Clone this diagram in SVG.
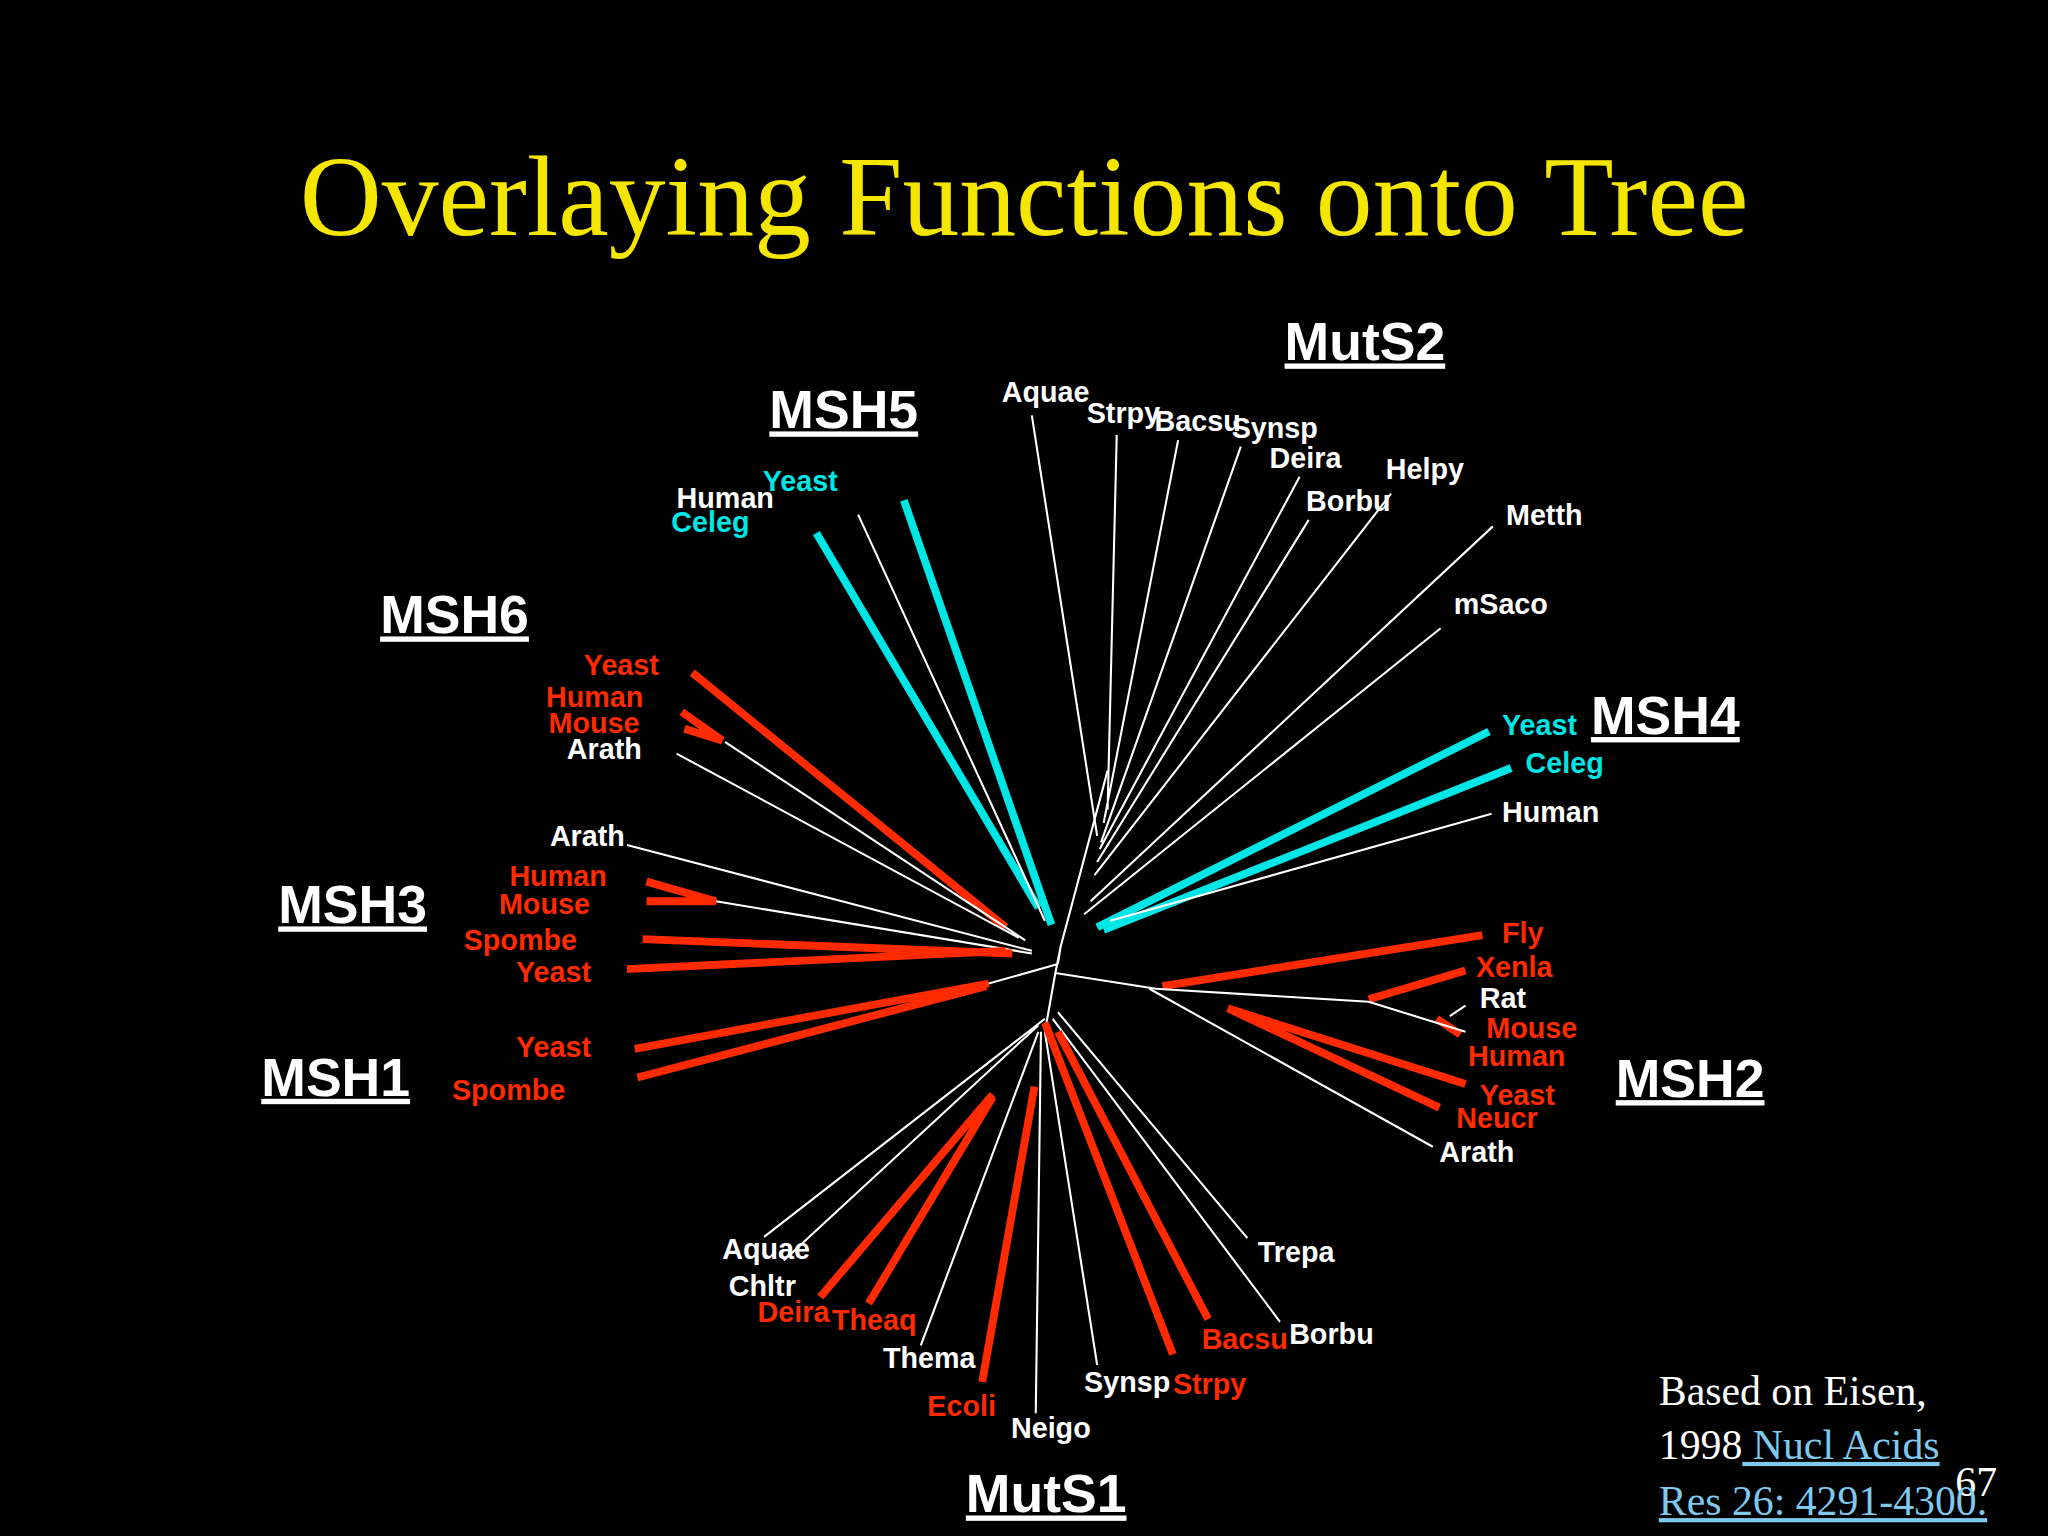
<svg xmlns="http://www.w3.org/2000/svg" width="2048" height="1536" viewBox="0 0 2048 1536">
<style>
.w{stroke:#fff;stroke-width:1.6;fill:none}
.r{stroke:#ff2a00;stroke-width:6;fill:none}
.c{stroke:#00e5e5;stroke-width:6;fill:none}
text{font-family:"Liberation Sans",Arial,sans-serif;font-weight:bold}
.lw{fill:#fff;font-size:22px}
.lr{fill:#ff2a00;font-size:22px}
.lc{fill:#00e5e5;font-size:22px}
.h{fill:#fff;font-size:41px;text-decoration:underline}
.s{font-family:"Liberation Serif","Times New Roman",serif;font-weight:normal;font-size:32px}
</style>
<rect width="2048" height="1536" fill="#000"/>
<g transform="scale(1.30612)">
<text x="784" y="180" text-anchor="middle" style="font-family:'Liberation Serif','Times New Roman',serif;font-weight:normal;font-size:87px;fill:#f5e600">Overlaying Functions onto Tree</text>
<g id="connectors">
<path class="w" d="M848,590L812,725L808,745L800,790M808,745L885,757M812,725L810,738"/>
<path class="w" d="M790,318L840,640M855,333L848,620M902,337L845,630M950,342L843,645M995,365L842,650M1002,398L840,660M1065,378L838,670M1143,403L835,690M1103,481L830,700"/>
<path class="c" d="M625,408L795,695M692,383L805,708"/>
<path class="w" d="M657,394L800,705"/>
<path class="c" d="M1140,560L840,710M1157,588L845,712"/>
<path class="w" d="M1142,623L850,705"/>
<path class="r" d="M530,515L770,710M522,545L553,567L524,558"/>
<path class="w" d="M518,577L780,718M555,568L785,720"/>
<path class="w" d="M480,647L790,728M548,690L790,730"/>
<path class="r" d="M495,675L548,690L495,690M492,719L775,730M480,742L770,728"/>
<path class="r" d="M486,803L757,753M488,825L755,755"/>
<path class="w" d="M757,753L810,738"/>
<path class="r" d="M890,755L1135,716M1048,765L1122,743M1100,780L1118,792M940,772L1122,830M940,772L1102,848"/>
<path class="w" d="M885,757L1048,767L1122,790M1110,778L1122,770M880,757L1097,878"/>
<path class="w" d="M585,947L800,780M600,965L795,785M705,1030L795,790M793,1082L797,790M840,1045L800,790M980,1012L806,780M955,948L810,775"/>
<path class="r" d="M628,993L760,838M665,998L760,840M752,1058L792,832M898,1037L800,783M925,1010L810,790"/>
</g>
<g id="heads">
<text class="h" x="1045" y="276" text-anchor="middle">MutS2</text>
<text class="h" x="646" y="328" text-anchor="middle">MSH5</text>
<text class="h" x="348" y="485" text-anchor="middle">MSH6</text>
<text class="h" x="270" y="707" text-anchor="middle">MSH3</text>
<text class="h" x="257" y="839" text-anchor="middle">MSH1</text>
<text class="h" x="1275" y="562" text-anchor="middle">MSH4</text>
<text class="h" x="1294" y="840" text-anchor="middle">MSH2</text>
<text class="h" x="801" y="1158" text-anchor="middle">MutS1</text>
</g>
<g id="labels">
<text class="lw" x="767" y="308">Aquae</text>
<text class="lw" x="832" y="324">Strpy</text>
<text class="lw" x="884" y="330">Bacsu</text>
<text class="lw" x="943" y="335">Synsp</text>
<text class="lw" x="972" y="358">Deira</text>
<text class="lw" x="1061" y="367">Helpy</text>
<text class="lw" x="1000" y="391">Borbu</text>
<text class="lw" x="1153" y="402">Metth</text>
<text class="lw" x="1113" y="470">mSaco</text>
<text class="lw" x="518" y="389">Human</text>
<text class="lc" x="584" y="376">Yeast</text>
<text class="lc" x="514" y="407">Celeg</text>
<text class="lr" x="447" y="517">Yeast</text>
<text class="lr" x="418" y="541">Human</text>
<text class="lr" x="420" y="561">Mouse</text>
<text class="lw" x="434" y="581">Arath</text>
<text class="lw" x="421" y="648">Arath</text>
<text class="lr" x="390" y="678">Human</text>
<text class="lr" x="382" y="700">Mouse</text>
<text class="lr" x="355" y="727">Spombe</text>
<text class="lr" x="395" y="752">Yeast</text>
<text class="lr" x="395" y="809">Yeast</text>
<text class="lr" x="346" y="842">Spombe</text>
<text class="lc" x="1150" y="563">Yeast</text>
<text class="lc" x="1168" y="592">Celeg</text>
<text class="lw" x="1150" y="629">Human</text>
<text class="lr" x="1150" y="722">Fly</text>
<text class="lr" x="1130" y="748">Xenla</text>
<text class="lw" x="1133" y="772">Rat</text>
<text class="lr" x="1138" y="795">Mouse</text>
<text class="lr" x="1124" y="816">Human</text>
<text class="lr" x="1133" y="846">Yeast</text>
<text class="lr" x="1115" y="864">Neucr</text>
<text class="lw" x="1102" y="890">Arath</text>
<text class="lw" x="553" y="964">Aquae</text>
<text class="lw" x="558" y="992">Chltr</text>
<text class="lr" x="580" y="1012">Deira</text>
<text class="lr" x="637" y="1018">Theaq</text>
<text class="lw" x="676" y="1047">Thema</text>
<text class="lr" x="710" y="1084">Ecoli</text>
<text class="lw" x="774" y="1101">Neigo</text>
<text class="lw" x="830" y="1066">Synsp</text>
<text class="lr" x="898" y="1067">Strpy</text>
<text class="lr" x="920" y="1033">Bacsu</text>
<text class="lw" x="987" y="1029">Borbu</text>
<text class="lw" x="963" y="966">Trepa</text>
</g>
<g id="footnote">
<text class="s" x="1270" y="1076" fill="#fff">Based on Eisen,</text>
<text class="s" x="1270" y="1117" fill="#fff">1998<tspan fill="#7fc8ee" text-decoration="underline"> Nucl Acids</tspan></text>
<text class="s" x="1497" y="1145" fill="#fff">67</text>
<text class="s" x="1270" y="1160" fill="#7fc8ee" text-decoration="underline">Res 26: 4291-4300.</text>
</g>
</g>
</svg>
